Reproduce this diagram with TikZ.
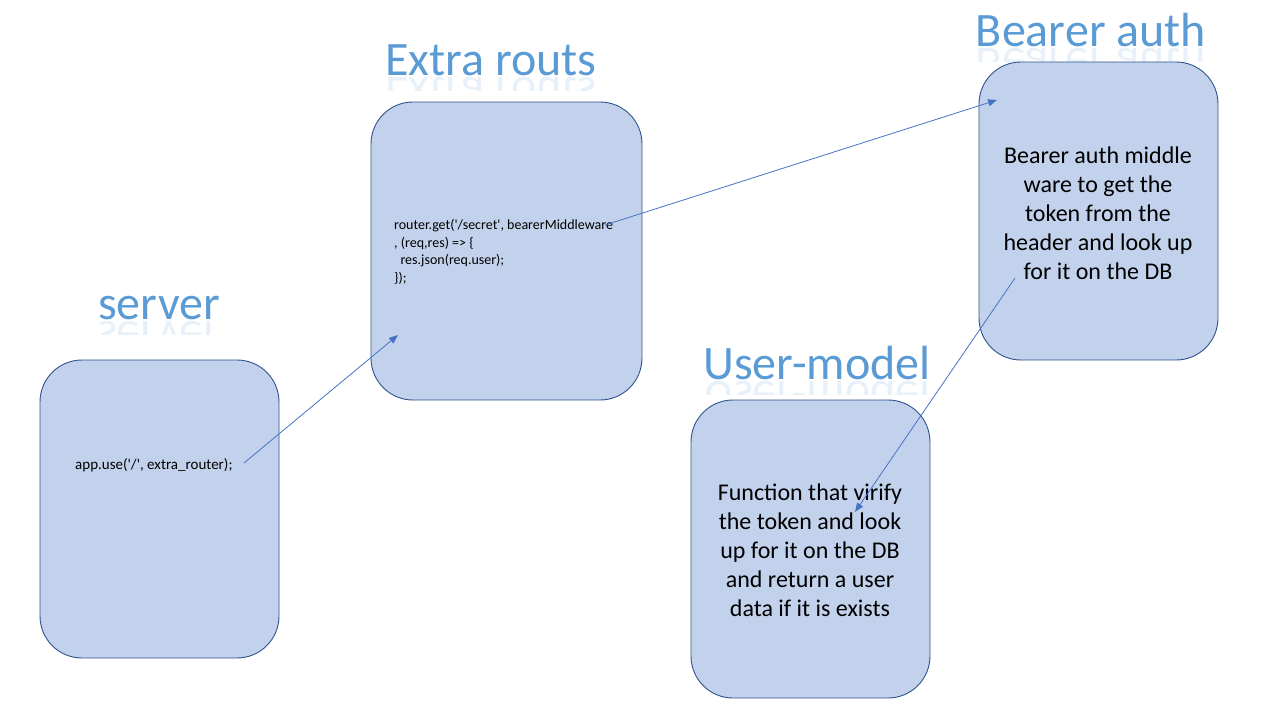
\documentclass[tikz,border=0pt]{standalone}
\usepackage{fontspec}
\setmainfont{Carlito}
\usetikzlibrary{arrows.meta}
\definecolor{boxfill}{HTML}{C3D2EC}
\definecolor{boxline}{HTML}{2F528F}
\definecolor{arrowc}{HTML}{4472C4}
\definecolor{titlec}{HTML}{5B9BD5}
\tikzset{
  box/.style={draw=boxline, fill=boxfill, line width=0.9pt, rounded corners=42pt, inner sep=0pt},
  ttl/.style={text=titlec, font=\fontsize{48}{52}\selectfont, anchor=base, inner sep=0pt},
  refl/.style={ttl, yscale=-1, opacity=0.14},
  body/.style={font=\fontsize{24}{29}\selectfont, align=center, inner sep=0pt},
  code/.style={font=\fontsize{14}{17.5}\selectfont, align=left, inner sep=0pt, anchor=west},
  conn/.style={draw=arrowc, line width=0.8pt, -{Triangle[length=9pt,width=7pt]}},
}
\newcommand{\titled}[3]{%
  \node[ttl] (#1) at (#2) {#3};
  \begin{scope}
    \clip ([xshift=-200pt,yshift=-2pt]#2) rectangle ([xshift=200pt,yshift=-15pt]#2);
    \node[refl] at ([yshift=-2pt]#2) {#3};
  \end{scope}}
\newcommand{\q}{\textquotesingle}
\begin{document}
\begin{tikzpicture}[x=1pt,y=-1pt]
\useasboundingbox (0,0) rectangle (1280,720);
% boxes
\node[box, minimum width=239pt, minimum height=298pt] (server) at (159.5,509) {};
\node[box, minimum width=271pt, minimum height=298pt] (extra) at (506.5,251) {};
\node[box, minimum width=239pt, minimum height=298pt] (bearer) at (1098.5,211) {};
\node[box, minimum width=239pt, minimum height=298pt] (user) at (810.5,549) {};
% titles
\titled{tserver}{159,319}{server}
\titled{textra}{491,75}{Extra routs}
\titled{tbearer}{1091,46}{Bearer auth}
\titled{tuser}{817,379}{User-model}
% texts
\node[code, font=\fontsize{15}{18}\selectfont] (appuse) at (75,465) {app.use(\q/\q, extra\_router);};
\node[code] (router) at (394,252) {router.get(\q/secret\q, bearerMiddleware\\, (req,res) => \{\\\ \ res.json(req.user);\\\});};
\node[body] (btext) at (1098,213) {Bearer auth middle\\ware to get the\\token from the\\header and look up\\for it on the DB};
\node[body] (utext) at (810,550) {Function that virify\\the token and look\\up for it on the DB\\and return a user\\data if it is exists};
% connector endpoints
\coordinate (a1s) at (244,463);
\coordinate (a1e) at (398,335);
\coordinate (a2s) at (605,225);
\coordinate (a2e) at (997,100);
\coordinate (a3s) at (1015,278);
\coordinate (a3e) at (855,512);
\draw[conn] (a1s) -- (a1e);
\draw[conn] (a2s) -- (a2e);
\draw[conn] (a3s) -- (a3e);
\end{tikzpicture}
\end{document}
